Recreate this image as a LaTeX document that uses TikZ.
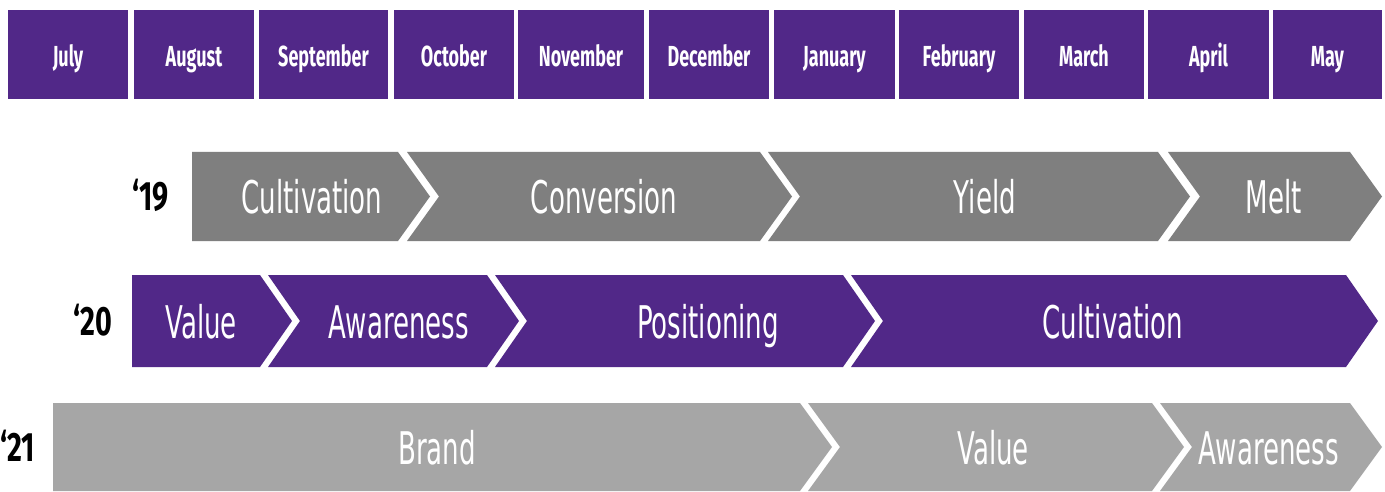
\documentclass[tikz,border=0pt]{standalone}
\usepackage{fontspec}
\newfontfamily\monthfont[FakeStretch=0.62]{Fira Sans}
\newfontfamily\yearfont[FakeStretch=0.7]{Fira Sans}
\newfontfamily\chevfont[FakeStretch=0.58]{DejaVu Sans}
\definecolor{kpurple}{HTML}{512888}
\definecolor{gdark}{HTML}{7F7F7F}
\definecolor{glight}{HTML}{A6A6A6}
\tikzset{
  monthbox/.style={fill=kpurple, text=white, inner sep=0pt, minimum height=89pt,
    text height=25pt, text depth=0pt, font=\monthfont\bfseries\fontsize{29}{29}\selectfont},
  chevtext/.style={text=white, inner sep=0pt, anchor=base,
    font=\chevfont\fontsize{45}{45}\selectfont},
  yearlabel/.style={text=black, inner sep=0pt, anchor=base east,
    font=\yearfont\bfseries\fontsize{41}{41}\selectfont},
}
\newcommand{\chevflat}[6]{%
  \fill[#4] (#2,\RT) -- (#3,\RT) -- ({#3+32},\RM) -- (#3,\RB) -- (#2,\RB) -- cycle;
  \node[chevtext] (#1) at (#5,{\RM+17}) {#6};}
\newcommand{\chevnotch}[6]{%
  \fill[#4] (#2,\RT) -- (#3,\RT) -- ({#3+32},\RM) -- (#3,\RB) -- (#2,\RB) -- ({#2+32},\RM) -- cycle;
  \node[chevtext] (#1) at (#5,{\RM+17}) {#6};}
\begin{document}
\begin{tikzpicture}[x=1pt,y=-1pt]
\useasboundingbox[fill=white] (0,0) rectangle (1385,492);
% month header
\node[monthbox, minimum width=120pt] (jul) at (68,54.5) {July};
\node[monthbox, minimum width=120pt] (aug) at (194,54.5) {August};
\node[monthbox, minimum width=129pt] (sep) at (323.5,54.5) {September};
\node[monthbox, minimum width=120pt] (oct) at (454,54.5) {October};
\node[monthbox, minimum width=126pt] (nov) at (581,54.5) {November};
\node[monthbox, minimum width=120pt] (dec) at (709,54.5) {December};
\node[monthbox, minimum width=121pt] (jan) at (834.5,54.5) {January};
\node[monthbox, minimum width=120pt] (feb) at (959,54.5) {February};
\node[monthbox, minimum width=120pt] (mar) at (1084,54.5) {March};
\node[monthbox, minimum width=121pt] (apr) at (1208.5,54.5) {April};
\node[monthbox, minimum width=109pt] (may) at (1327.5,54.5) {May};
% row '19
\def\RT{152}\def\RB{241}\def\RM{196.5}
\node[yearlabel] (y19) at (169,{\RM+14}) {‘19};
\chevflat{a1}{192}{398}{gdark}{312}{Cultivation}
\chevnotch{a2}{407}{760}{gdark}{604}{Conversion}
\chevnotch{a3}{768}{1158}{gdark}{985}{Yield}
\chevnotch{a4}{1168}{1350}{gdark}{1274}{Melt}
% row '20
\def\RT{275}\def\RB{367}\def\RM{321}
\node[yearlabel] (y20) at (112,{\RM+14}) {‘20};
\chevflat{b1}{132}{260}{kpurple}{201}{Value}
\chevnotch{b2}{268}{487}{kpurple}{399}{Awareness}
\chevnotch{b3}{495}{843}{kpurple}{708}{Positioning}
\chevnotch{b4}{851}{1346}{kpurple}{1113}{Cultivation}
% row '21
\def\RT{403}\def\RB{491}\def\RM{447}
\node[yearlabel] (y21) at (35,{\RM+14}) {‘21};
\chevflat{c1}{53}{800}{glight}{437}{Brand}
\chevnotch{c2}{808}{1152}{glight}{993}{Value}
\chevnotch{c3}{1160}{1350}{glight}{1269}{Awareness}
\end{tikzpicture}
\end{document}
